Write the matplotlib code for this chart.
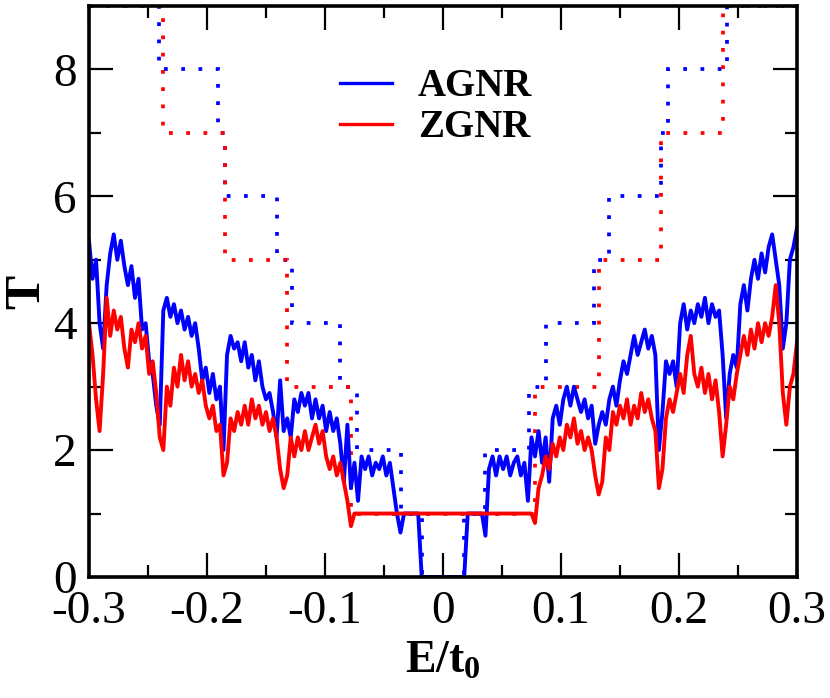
import numpy as np
import matplotlib
matplotlib.use('Agg')
import matplotlib.pyplot as plt
from matplotlib.ticker import MultipleLocator

plt.rcParams['font.family'] = ['Liberation Serif', 'DejaVu Serif']
plt.rcParams['mathtext.fontset'] = 'custom'
plt.rcParams['mathtext.rm'] = 'Liberation Serif'
plt.rcParams['mathtext.bf'] = 'Liberation Serif:bold'

# energy grid, step 0.003 from -0.3 to 0.3
energy = np.round(np.arange(-0.3, 0.3001, 0.003), 3)

# disordered ribbons
agnr_T = [
    5.3, 4.7, 5.0, 4.0, 3.6, 4.6, 5.1, 5.4, 5.0, 5.3,
    4.9, 4.6, 4.9, 4.4, 4.7, 3.9, 4.0, 3.4, 3.2, 2.7,
    2.4, 4.2, 4.4, 4.1, 4.3, 4.0, 4.2, 3.9, 4.1, 3.8,
    4.0, 3.6, 3.1, 3.3, 2.9, 3.2, 2.8, 3.0, 2.0, 3.5,
    3.8, 3.6, 3.7, 3.4, 3.7, 3.3, 3.5, 3.1, 3.4, 3.0,
    2.8, 2.9, 2.6, 2.2, 3.1, 2.3, 2.5, 2.2, 2.8, 2.6,
    2.9, 2.7, 2.9, 2.5, 2.8, 2.5, 2.7, 2.3, 2.6, 2.3,
    2.5, 2.1, 1.5, 2.4, 1.4, 1.8, 1.2, 1.9, 1.7, 1.9,
    1.6, 1.8, 1.7, 1.9, 1.6, 1.8, 1.4, 1.0, 0.7, 1.0,
    1.0, 1.0, 1.0, 1.0, 0.0, 0.0, 0.0, 0.0, 0.0, 0.0,
    0.0, 0.0, 0.0, 0.0, 0.0, 0.0, 0.0, 1.0, 1.0, 1.0,
    1.0, 1.0, 0.65, 1.7, 1.9, 1.6, 1.9, 1.7, 1.9, 1.6,
    1.8, 1.9, 1.6, 1.8, 1.2, 2.2, 1.9, 2.3, 1.8, 2.2,
    1.5, 2.5, 2.7, 2.4, 2.8, 3.0, 2.7, 3.0, 2.8, 2.6,
    2.8, 2.5, 2.7, 2.1, 2.4, 2.6, 2.4, 2.8, 3.0, 2.7,
    3.1, 3.4, 3.2, 3.5, 3.8, 3.5, 3.7, 3.9, 3.6, 3.8,
    3.5, 2.0, 2.6, 3.4, 3.2, 3.4, 3.0, 4.0, 4.3, 3.9,
    4.2, 4.0, 4.3, 4.1, 4.4, 4.0, 4.3, 4.1, 4.2, 3.5,
    2.5, 3.2, 3.5, 3.3, 4.3, 4.6, 4.2, 4.7, 5.0, 4.7,
    5.1, 4.8, 5.2, 5.4, 5.0, 4.6, 3.6, 4.0, 5.0, 5.2,
    5.5,
]

zgnr_T = [
    4.0, 3.5, 2.8, 2.3, 3.2, 4.4, 3.8, 4.2, 3.9, 4.1,
    3.6, 3.3, 3.9, 3.7, 4.0, 3.6, 3.8, 3.2, 3.4, 2.9,
    2.2, 2.0, 3.0, 2.7, 3.3, 3.0, 3.5, 3.1, 3.4, 3.0,
    3.2, 2.9, 3.1, 2.7, 2.5, 2.7, 2.3, 2.4, 1.6, 1.8,
    2.5, 2.3, 2.6, 2.4, 2.7, 2.4, 2.8, 2.5, 2.7, 2.4,
    2.6, 2.3, 2.5, 2.2, 1.7, 1.4, 1.6, 2.2, 1.9, 2.2,
    2.0, 2.3, 2.0, 2.2, 2.4, 2.1, 2.3, 1.9, 1.7, 1.9,
    1.6, 1.8, 1.5, 1.2, 0.8, 1.0, 1.0, 1.0, 1.0, 1.0,
    1.0, 1.0, 1.0, 1.0, 1.0, 1.0, 1.0, 1.0, 1.0, 1.0,
    1.0, 1.0, 1.0, 1.0, 1.0, 1.0, 1.0, 1.0, 1.0, 1.0,
    1.0, 1.0, 1.0, 1.0, 1.0, 1.0, 1.0, 1.0, 1.0, 1.0,
    1.0, 1.0, 1.0, 1.0, 1.0, 1.0, 1.0, 1.0, 1.0, 1.0,
    1.0, 1.0, 1.0, 1.0, 1.0, 1.0, 0.85, 1.4, 1.6, 1.9,
    1.7, 2.1, 1.9, 2.2, 2.0, 2.4, 2.2, 2.5, 2.1, 2.3,
    2.0, 2.2, 2.0, 1.6, 1.3, 1.5, 2.2, 2.0, 2.6, 2.4,
    2.7, 2.5, 2.8, 2.4, 2.7, 2.5, 2.9, 2.6, 2.8, 2.5,
    2.3, 1.4, 1.7, 2.5, 2.8, 2.6, 2.9, 3.2, 2.9, 3.5,
    3.8, 3.2, 3.0, 3.3, 2.9, 3.2, 2.8, 3.1, 2.6, 1.9,
    2.4, 3.0, 2.8, 3.2, 3.5, 3.8, 3.5, 3.9, 3.6, 4.0,
    3.7, 4.0, 3.8, 4.1, 4.6, 4.0, 2.9, 2.4, 3.0, 3.2,
    3.7,
]

# clean ribbons: step edges and plateau values
agnr_edges = [-0.3, -0.2407, -0.191, -0.185, -0.141, -0.128, -0.0872, -0.073,
              -0.0356, -0.0178, 0.0178, 0.0356, 0.073, 0.0872, 0.128, 0.141,
              0.185, 0.191, 0.2407, 0.3]
agnr_steps = [9, 8, 7, 6, 5, 4, 3, 2, 1, 0, 1, 2, 3, 4, 5, 6, 7, 8, 9]
zgnr_edges = [-0.3, -0.237, -0.185, -0.132, -0.078, 0.078, 0.132, 0.185, 0.237, 0.3]
zgnr_steps = [9, 7, 5, 3, 1, 3, 5, 7, 9]

blue = '#0000ff'
red = '#ff0000'

fig = plt.figure(figsize=(8.3, 6.98), dpi=100)
ax = fig.add_axes([0.1072, 0.1734, 0.853, 0.818])

dots = (0, (1, 3.6))
ax.stairs(agnr_steps, agnr_edges, baseline=None, color=blue, lw=2.7, linestyle=dots)
ax.stairs(zgnr_steps, zgnr_edges, baseline=None, color=red, lw=2.7, linestyle=dots)

ax.plot(energy, agnr_T, color=blue, lw=2.8, label='AGNR')
ax.plot(energy, zgnr_T, color=red, lw=2.8, label='ZGNR')

ax.set_xlim(-0.3, 0.3)
ax.set_ylim(0, 9)
ax.xaxis.set_minor_locator(MultipleLocator(0.05))
ax.yaxis.set_major_locator(MultipleLocator(2))
ax.yaxis.set_minor_locator(MultipleLocator(1))
ax.set_xticks([-0.3, -0.2, -0.1, 0, 0.1, 0.2, 0.3])
ax.set_xticklabels(['-0.3', '-0.2', '-0.1', '0', '0.1', '0.2', '0.3'])

ax.tick_params(which='both', direction='in', top=True, right=True,
               labelsize=34)
ax.tick_params(axis='y', pad=9)
ax.tick_params(axis='x', pad=10)
ax.tick_params(which='major', length=17, width=1.6)
ax.tick_params(which='minor', length=8.5, width=1.6)
for s in ax.spines.values():
    s.set_linewidth(2.6)

ax.set_xlabel(r'$\mathbf{E/t_0}$', fontsize=33, labelpad=5)
ax.set_ylabel('T', fontsize=37, fontweight='bold')
ax.yaxis.set_label_coords(-0.054, 0.5)

leg = ax.legend(loc='upper left', bbox_to_anchor=(0.305, 0.952), frameon=False,
                handlelength=1.35, handletextpad=0.65, labelspacing=0.1,
                prop={'family': 'Liberation Serif', 'weight': 'bold', 'size': 28})
for line in leg.get_lines():
    line.set_linewidth(2.4)

fig.savefig('out.png', dpi=100)
